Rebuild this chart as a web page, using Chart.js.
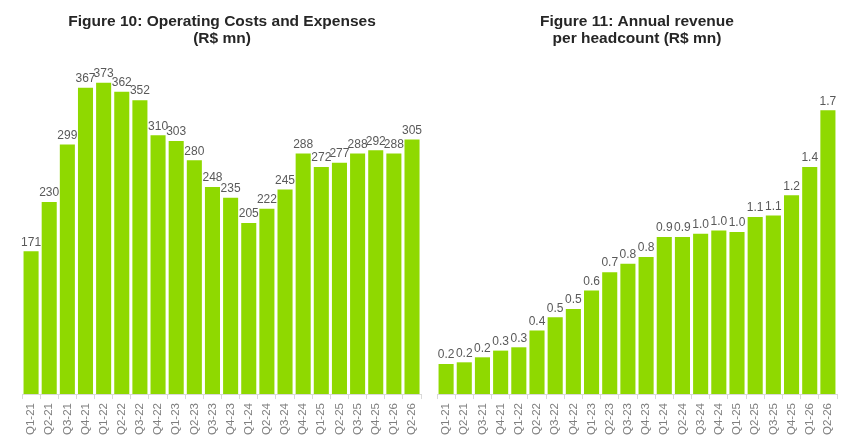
<!DOCTYPE html>
<html>
<head>
<meta charset="utf-8">
<script src="https://cdn.jsdelivr.net/npm/chart.js@4.4.1/dist/chart.umd.min.js"></script>
<style>
    body { margin: 0; background: #ffffff; }
    #wrap { position: relative; width: 851px; height: 448px; }
    #costsBox { position: absolute; left: 0; top: 0; width: 430px; height: 448px; }
    #revenueBox { position: absolute; left: 430px; top: 0; width: 421px; height: 448px; }
</style>
</head>
<body>
<div id="wrap">
    <div id="costsBox"><canvas id="costsChart" width="430" height="448"></canvas></div>
    <div id="revenueBox"><canvas id="revenueChart" width="421" height="448"></canvas></div>
</div>
<script>
// Quarter labels (same for both charts)
const quarters = ['Q1-21', 'Q2-21', 'Q3-21', 'Q4-21', 'Q1-22', 'Q2-22', 'Q3-22', 'Q4-22',
    'Q1-23', 'Q2-23', 'Q3-23', 'Q4-23', 'Q1-24', 'Q2-24', 'Q3-24', 'Q4-24',
    'Q1-25', 'Q2-25', 'Q3-25', 'Q4-25', 'Q1-26', 'Q2-26'];

// Figure 10: Operating costs and expenses (R$ mn)
const costs = [171, 230, 299, 367, 373, 362, 352, 310, 303, 280, 248, 235,
    205, 222, 245, 288, 272, 277, 288, 292, 288, 305];

// Figure 11: Annual revenue per headcount (R$ mn)
const revenuePerHead = [0.18, 0.19, 0.22, 0.26, 0.28, 0.38, 0.46, 0.51, 0.62, 0.73, 0.78, 0.82,
    0.94, 0.94, 0.96, 0.98, 0.97, 1.06, 1.07, 1.19, 1.36, 1.70];

const costsTitle = ['Figure 10: Operating Costs and Expenses', '(R$ mn)'];
const revenueTitle = ['Figure 11: Annual revenue', 'per headcount (R$ mn)'];

const barColor = '#8fd900';
const fontFamily = '"Liberation Sans", Arial, sans-serif';

// Draw value labels above each bar
const valueLabels = {
    id: 'valueLabels',
    afterDatasetsDraw(chart, args, opts) {
        const ctx = chart.ctx;
        const meta = chart.getDatasetMeta(0);
        const values = chart.data.datasets[0].data;
        ctx.save();
        ctx.font = '12px ' + fontFamily;
        ctx.fillStyle = '#595959';
        ctx.textAlign = 'center';
        ctx.textBaseline = 'bottom';
        meta.data.forEach((bar, i) => {
            const text = opts.decimals ? values[i].toFixed(opts.decimals) : String(values[i]);
            ctx.fillText(text, bar.x, bar.y - 3);
        });
        ctx.restore();
    }
};

function makeChart(canvasId, values, title, yMax, decimals, padLeft, padRight) {
    const ctx = document.getElementById(canvasId).getContext('2d');
    return new Chart(ctx, {
        type: 'bar',
        data: {
            labels: quarters,
            datasets: [{
                data: values,
                backgroundColor: barColor,
                categoryPercentage: 1,
                barPercentage: 0.83
            }]
        },
        options: {
            responsive: false,
            animation: false,
            layout: { padding: { left: padLeft, right: padRight, top: 0, bottom: 9 } },
            plugins: {
                legend: { display: false },
                tooltip: { enabled: false },
                title: {
                    display: true,
                    text: title,
                    color: '#262626',
                    font: { family: fontFamily, size: 15.5, weight: 'bold', lineHeight: 1.1 },
                    padding: { top: 13, bottom: 13 }
                },
                valueLabels: { decimals: decimals }
            },
            scales: {
                x: {
                    grid: { display: true, drawOnChartArea: false, tickLength: 5, color: '#d9d9d9' },
                    border: { display: true, color: '#d9d9d9' },
                    ticks: {
                        color: '#7f7f7f',
                        font: { family: fontFamily, size: 11.5 },
                        maxRotation: 90,
                        minRotation: 90,
                        autoSkip: false,
                        padding: 4
                    }
                },
                y: { display: false, min: 0, max: yMax }
            }
        },
        plugins: [valueLabels]
    });
}

makeChart('costsChart', costs, costsTitle, 400, 0, 22, 8);
makeChart('revenueChart', revenuePerHead, revenueTitle, 2.0, 1, 7, 14);
</script>
</body>
</html>
